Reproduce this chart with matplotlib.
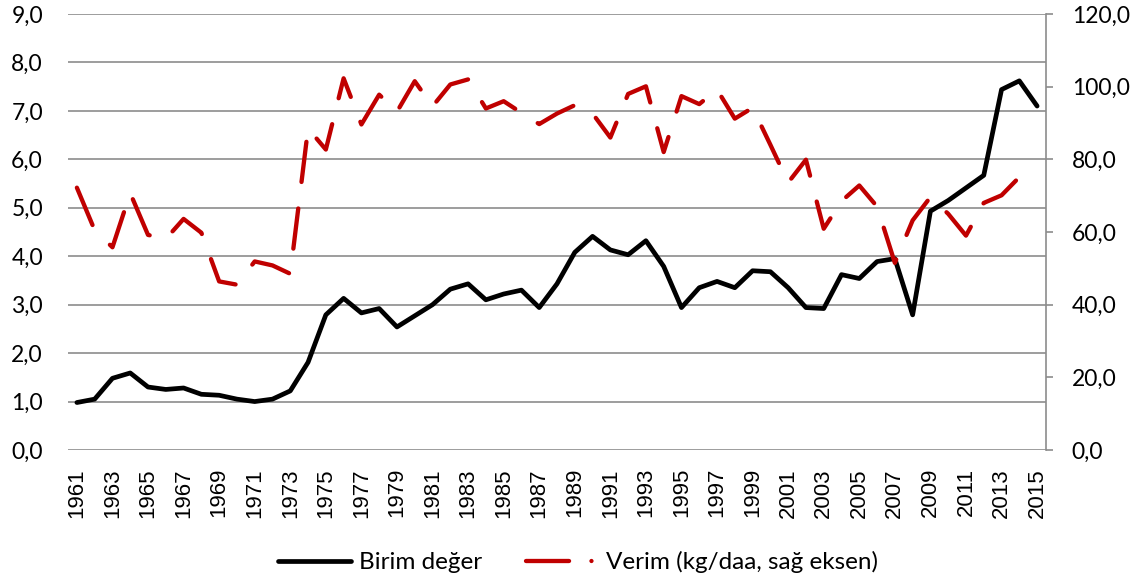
import matplotlib
matplotlib.use('Agg')
import matplotlib.pyplot as plt
from matplotlib.lines import Line2D
from matplotlib.ticker import FuncFormatter
import numpy as np

# data
years = list(range(1961, 2016))
birim_deger = [0.98, 1.05, 1.48, 1.59, 1.30, 1.25, 1.28, 1.15, 1.13, 1.05,
               1.00, 1.05, 1.22, 1.81, 2.79, 3.13, 2.83, 2.92, 2.54, 2.77,
               3.00, 3.32, 3.43, 3.10, 3.22, 3.30, 2.94, 3.43, 4.08, 4.41,
               4.13, 4.03, 4.32, 3.79, 2.94, 3.35, 3.48, 3.35, 3.70, 3.68,
               3.35, 2.94, 2.92, 3.62, 3.54, 3.89, 3.95, 2.79, 4.93, 5.15,
               5.41, 5.67, 7.44, 7.62, 7.10]
verim = [72.2, 60.5, 55.8, 70.7, 59.2, 58.1, 63.6, 59.8, 46.4, 45.5,
         51.9, 50.8, 48.5, 88.5, 82.7, 102.3, 89.6, 97.8, 93.1, 101.5,
         94.6, 100.6, 102.0, 94.0, 96.0, 92.8, 89.7, 92.6, 94.9, 92.6,
         86.0, 98.0, 100.1, 82.0, 97.4, 95.2, 99.2, 91.2, 94.2, 84.0,
         73.6, 79.9, 60.9, 68.5, 72.8, 67.0, 51.5, 63.2, 69.6, 65.0,
         59.0, 68.0, 70.1, 75.1, 72.0]
left_ticks = np.arange(0, 9.5, 1.0)
right_ticks = np.arange(0, 121, 20)
labels = ['Birim değer', 'Verim (kg/daa, sağ eksen)']

grid_color = '#8c8c8c'
red = '#c00000'

def comma_fmt(v, pos):
  return f'{v:.1f}'.replace('.', ',')

fig = plt.figure(figsize=(11.38, 5.79), dpi=100)
ax = fig.add_axes([68/1138, 1 - 450/579, (1046 - 68)/1138, (450 - 14)/579])
ax2 = ax.twinx()

x = np.arange(len(years))
ax.plot(x, birim_deger, color='black', lw=3.4, solid_joinstyle='round',
        solid_capstyle='round', zorder=3)
ax2.plot(x, verim, color=red, lw=3.1, linestyle=(0, (9.4, 6.2)),
         dash_capstyle='round', dash_joinstyle='round', zorder=3)

# left axis
ax.set_xlim(-0.5, len(years) - 0.5)
ax.set_ylim(0, 9)
ax.set_yticks(left_ticks)
ax.yaxis.set_major_formatter(FuncFormatter(comma_fmt))
ax.grid(axis='y', color=grid_color, lw=1.2)
ax.set_axisbelow(True)
ax.tick_params(axis='y', length=0, pad=18, labelsize=16.5)
for lab in ax.get_yticklabels():
  lab.set_fontfamily('Lato')

# x axis, every second year
ax.set_xticks(x[::2])
ax.set_xticklabels([str(y) for y in years[::2]], rotation=90,
                   fontfamily='Liberation Sans', fontsize=16)
ax.tick_params(axis='x', length=0, pad=13)

# right axis
ax2.set_ylim(0, 120)
ax2.set_yticks(right_ticks)
ax2.yaxis.set_major_formatter(FuncFormatter(comma_fmt))
ax2.tick_params(axis='y', length=5, width=1.2, color=grid_color, pad=13.5,
                labelsize=16.5)
for lab in ax2.get_yticklabels():
  lab.set_fontfamily('Lato')

for a in (ax, ax2):
  for s in ('top', 'left', 'bottom'):
    a.spines[s].set_visible(False)
ax.spines['right'].set_visible(False)
ax2.spines['right'].set_color(grid_color)
ax2.spines['right'].set_linewidth(1.2)

# legend at the bottom
handles = [Line2D([], [], color='black', lw=3.4, solid_capstyle='round'),
           Line2D([], [], color=red, lw=3.1, linestyle=(0, (10.0, 5.2, 0.01, 20)),
                  dash_capstyle='round')]
fig.legend(handles, labels, loc='center', bbox_to_anchor=(0.508, 0.029), ncol=2,
           frameon=False, prop={'family': 'Lato', 'size': 17.5},
           handlelength=3.0, handletextpad=0.3, columnspacing=1.8)

fig.savefig('out.png', dpi=100)
